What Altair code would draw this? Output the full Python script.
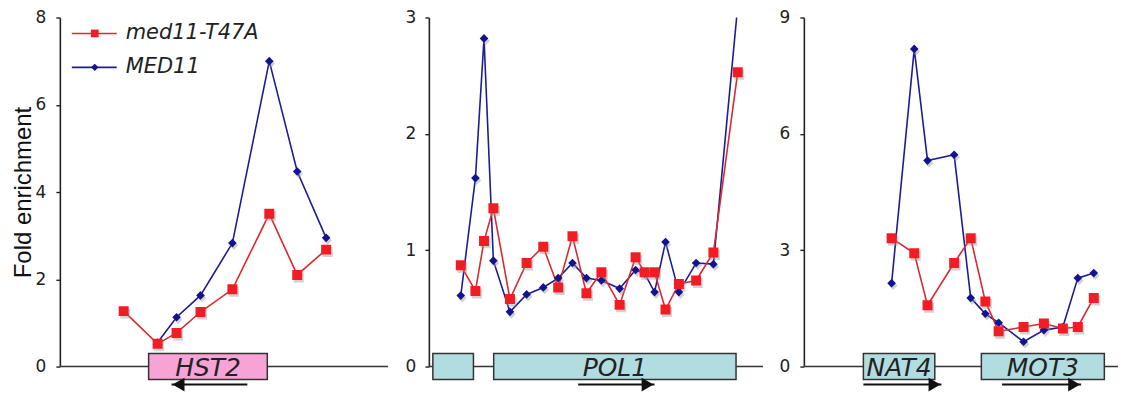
import altair as alt
import pandas as pd

SERIES = ["med11-T47A", "MED11"]
RED_LINE, RED_MARK = "#d92a2e", "#f21d24"
BLUE_LINE, BLUE_MARK = "#1c1c96", "#13138f"

# ---------- Panel 1 : HST2 ----------
p1_x_red = [64, 98, 117, 141, 173, 210, 238, 267]
p1_red = [1.27, 0.52, 0.77, 1.25, 1.77, 3.5, 2.1, 2.68]
p1_x_blue = [98, 117, 141, 173, 210, 238, 267]
p1_blue = [0.55, 1.13, 1.63, 2.83, 7.0, 4.47, 2.95]
p1_gene_names = ["HST2"]
p1_gene_start = [89]
p1_gene_end = [208]
p1_arrow_start = [188]
p1_arrow_end = [112]
p1_ticks = [0, 2, 4, 6, 8]

# ---------- Panel 2 : POL1 ----------
p2_x = [32, 46.7, 55.3, 64.7, 81.3, 98, 114.7, 129.7, 144, 158, 173, 191.3,
        207.3, 216.3, 226.3, 237.3, 250.7, 268, 285.3, 309.7]
p2_red = [0.87, 0.65, 1.08, 1.36, 0.58, 0.89, 1.03, 0.68, 1.12, 0.63, 0.81,
          0.53, 0.94, 0.81, 0.81, 0.49, 0.71, 0.74, 0.98, 2.53]
p2_blue = [0.61, 1.62, 2.82, 0.91, 0.47, 0.62, 0.68, 0.76, 0.89, 0.76, 0.74,
           0.67, 0.83, 0.8, 0.64, 1.07, 0.64, 0.89, 0.88, 3.1]
p2_gene_names = ["", "POL1"]
p2_gene_start = [4, 65]
p2_gene_end = [44.7, 308]
p2_arrow_start = [149.7]
p2_arrow_end = [226.3]
p2_ticks = [0, 1, 2, 3]

# ---------- Panel 3 : NAT4 / MOT3 ----------
p3_x = [88, 110.7, 124, 150.7, 167.3, 182, 195.3, 220.3, 240.7, 259.7, 274.7, 290.7]
p3_red = [3.31, 2.92, 1.58, 2.67, 3.31, 1.68, 0.91, 1.02, 1.11, 0.98, 1.02, 1.77]
p3_blue = [2.15, 8.19, 5.31, 5.46, 1.77, 1.36, 1.13, 0.64, 0.94, 1.02, 2.28, 2.41]
p3_gene_names = ["NAT4", "MOT3"]
p3_gene_start = [59.7, 178]
p3_gene_end = [131.3, 301.3]
p3_arrow_start = [59.7, 198.7]
p3_arrow_end = [138, 278]
p3_ticks = [0, 3, 6, 9]

H = 350
TICK_FONT = "DejaVu Sans"


def panel(width, ymax, ticks, xr, red, xb, blue, gnames, gs, ge, astart, aend,
          fill, title=None, label_pad=10, legend=False):
    xs = alt.Scale(domain=[0, width], nice=False, zero=False)
    ys = alt.Scale(domain=[0, ymax], nice=False)
    yaxis = alt.Axis(values=ticks, format="d", tickSize=4, labelPadding=label_pad,
                     title=title, titleFont="Liberation Sans", titleFontSize=24,
                     titleFontWeight="normal", titleColor="#111", titlePadding=0,
                     labelFont=TICK_FONT, labelFontSize=17, labelColor="#222",
                     domainColor="#222", domainWidth=1.6, tickColor="#222",
                     tickWidth=1.4, grid=False)
    red_df = pd.DataFrame({"x": xr, "y": red, "s": SERIES[0]})
    blue_df = pd.DataFrame({"x": xb, "y": blue, "s": SERIES[1]})

    base_df = pd.DataFrame({"x0": [0], "x1": [width], "y0": [0]})
    baseline = alt.Chart(base_df).mark_rule(color="#333", strokeWidth=1.6).encode(
        x=alt.X("x0:Q", scale=xs, axis=None), x2="x1:Q",
        y=alt.Y("y0:Q", scale=ys, axis=yaxis))

    genes = pd.DataFrame({"name": gnames, "start": gs, "end": ge})
    genes["mid"] = (genes["start"] + genes["end"]) / 2
    rects = alt.Chart(genes).mark_rect(fill=fill, stroke="#333", strokeWidth=1.5).encode(
        x=alt.X("start:Q", scale=xs), x2="end:Q",
        y=alt.value(H - 13), y2=alt.value(H + 13))
    labels = alt.Chart(genes).mark_text(font="DejaVu Sans", fontStyle="italic",
                                        fontSize=25, color="#222", baseline="middle").encode(
        x=alt.X("mid:Q", scale=xs), y=alt.value(H + 1), text="name:N")

    arr = pd.DataFrame({"a0": astart, "a1": aend})
    arr["dir"] = ["right" if b > a else "left" for a, b in zip(astart, aend)]
    arr["head"] = [b - 7 if b > a else b + 7 for a, b in zip(astart, aend)]
    arrow_line = alt.Chart(arr).mark_rule(color="#111", strokeWidth=2).encode(
        x=alt.X("a0:Q", scale=xs), x2="a1:Q", y=alt.value(H + 18))
    arrow_head = alt.Chart(arr).mark_point(filled=True, color="#111", opacity=1,
                                           size=190).encode(
        x=alt.X("head:Q", scale=xs), y=alt.value(H + 18),
        shape=alt.Shape("dir:N", scale=alt.Scale(domain=["left", "right"],
                                                  range=["triangle-left", "triangle-right"]),
                        legend=None))

    def line(df, c):
        return alt.Chart(df).mark_line(color=c, strokeWidth=1.6, clip=True).encode(
            x=alt.X("x:Q", scale=xs), y=alt.Y("y:Q", scale=ys))

    def pts(df, c, shape, size, shadow=False):
        kw = dict(filled=True, opacity=1, clip=True, shape=shape, size=size)
        if shadow:
            return alt.Chart(df).mark_point(color="#999", **kw).encode(
                x=alt.X("x:Q", scale=xs), y=alt.Y("y:Q", scale=ys),
                xOffset=alt.value(1.5), yOffset=alt.value(2.5),
                opacity=alt.value(0.45))
        return alt.Chart(df).mark_point(color=c, **kw).encode(
            x=alt.X("x:Q", scale=xs), y=alt.Y("y:Q", scale=ys))

    layers = [baseline, rects, labels, arrow_line, arrow_head,
              line(blue_df, BLUE_LINE), line(red_df, RED_LINE),
              pts(blue_df, "", "diamond", 75, True), pts(red_df, "", "square", 100, True),
              pts(blue_df, BLUE_MARK, "diamond", 75), pts(red_df, RED_MARK, "square", 100)]

    if legend:
        for i, (name, lc, mc, shp, sz) in enumerate(
                [(SERIES[0], RED_LINE, RED_MARK, "square", 60),
                 (SERIES[1], BLUE_LINE, BLUE_MARK, "diamond", 55)]):
            ly = 16 + i * 34
            ldf = pd.DataFrame({"s": [name]})
            layers.append(alt.Chart(ldf).mark_rule(color=lc, strokeWidth=1.6).encode(
                x=alt.value(12), x2=alt.value(57), y=alt.value(ly)))
            layers.append(alt.Chart(ldf).mark_point(filled=True, opacity=1, color=mc,
                                                    shape=shp, size=sz).encode(
                x=alt.value(35), y=alt.value(ly)))
            layers.append(alt.Chart(ldf).mark_text(font="DejaVu Sans", fontStyle="italic",
                                                   fontSize=21, color="#222", align="left",
                                                   baseline="middle").encode(
                x=alt.value(66), y=alt.value(ly), text="s:N"))

    return alt.layer(*layers).properties(width=width, height=H)


c1 = panel(329, 8, p1_ticks, p1_x_red, p1_red, p1_x_blue, p1_blue,
           p1_gene_names, p1_gene_start, p1_gene_end, p1_arrow_start, p1_arrow_end,
           "#f7a3d6", title="Fold enrichment", label_pad=10, legend=True)
c2 = panel(335, 3, p2_ticks, p2_x, p2_red, p2_x, p2_blue,
           p2_gene_names, p2_gene_start, p2_gene_end, p2_arrow_start, p2_arrow_end,
           "#b2dde0", label_pad=9)
c3 = panel(315, 9, p3_ticks, p3_x, p3_red, p3_x, p3_blue,
           p3_gene_names, p3_gene_start, p3_gene_end, p3_arrow_start, p3_arrow_end,
           "#b2dde0", label_pad=10)

chart = alt.hconcat(c1, alt.hconcat(c2, c3, spacing=15), spacing=16).properties(
    padding={"left": 3, "top": 0, "right": 0, "bottom": 0}
).configure_view(stroke=None)

chart.save("out.html", embed_options={"renderer": "svg", "actions": False})
